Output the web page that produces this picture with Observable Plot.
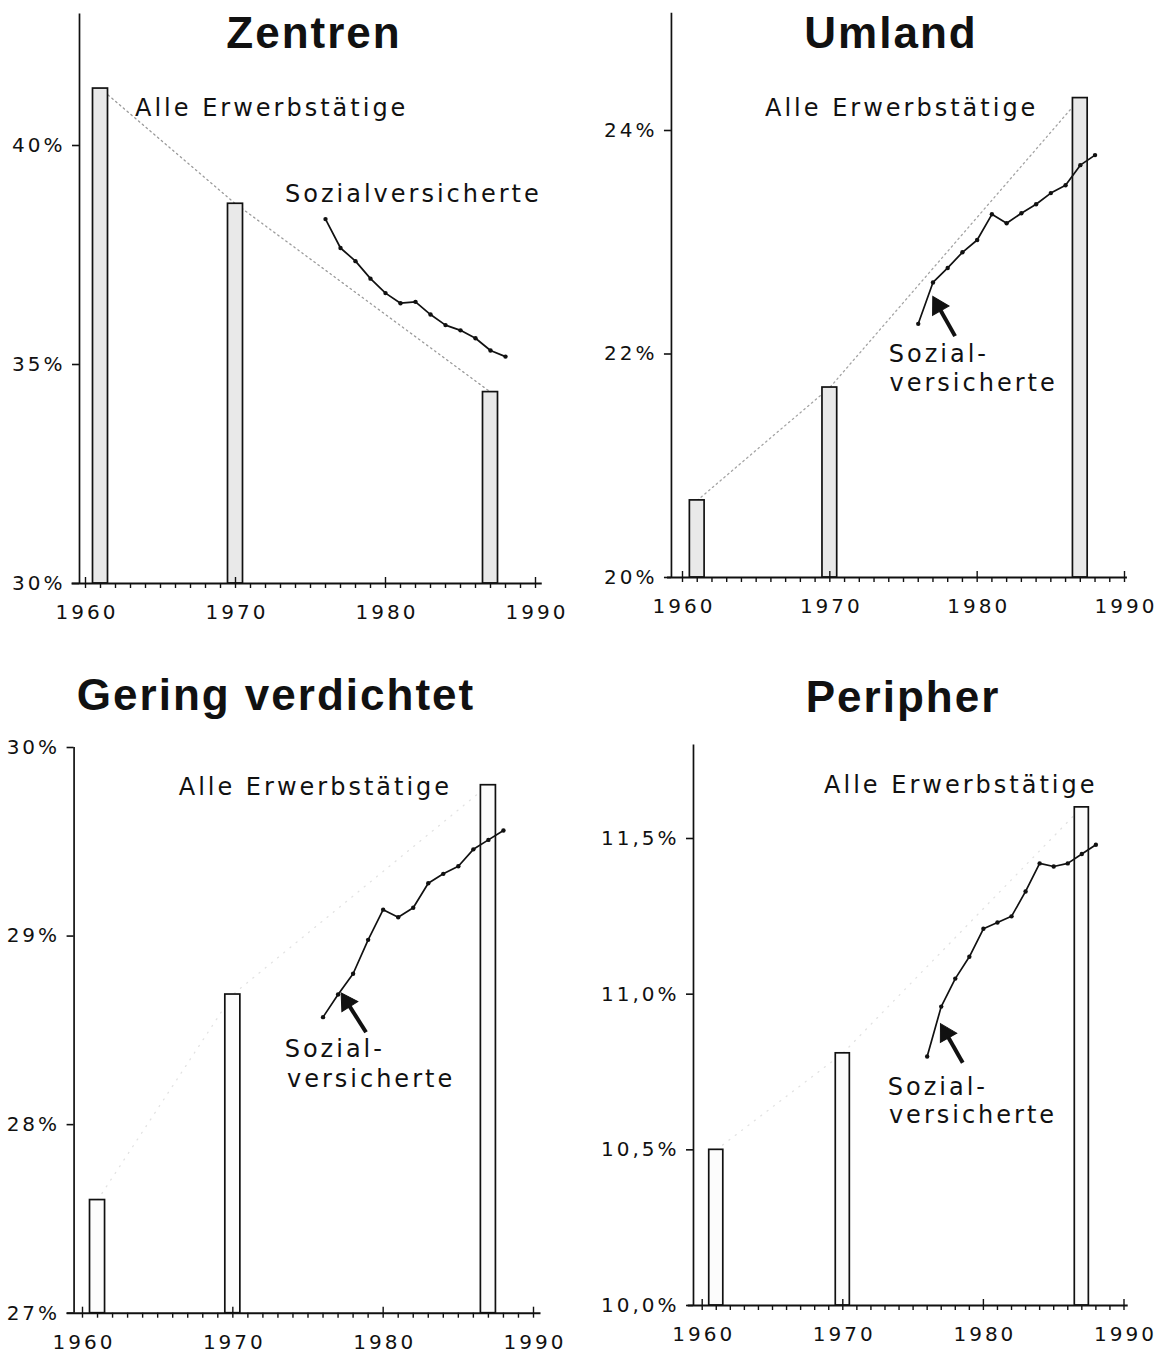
<!DOCTYPE html>
<html><head><meta charset="utf-8">
<script src="https://cdn.jsdelivr.net/npm/d3@7"></script>
<script src="https://cdn.jsdelivr.net/npm/@observablehq/plot@0.6"></script>
<style>
body{margin:0;background:#fff;}
#wrap{position:relative;width:1158px;height:1353px;overflow:hidden;background:#fff;}
.panel{position:absolute;}
.title{position:absolute;font-family:"Liberation Sans",Arial,sans-serif;font-weight:bold;font-size:44px;letter-spacing:2px;line-height:1;white-space:nowrap;transform:translateX(-50%);color:#111;}
</style></head><body><div id="wrap"></div>
<script>
// ---- data ----
const barYears = [1961, 1970, 1987];
const svYears = [1976, 1977, 1978, 1979, 1980, 1981, 1982, 1983, 1984, 1985, 1986, 1987, 1988];
const majorYears = [1960, 1970, 1980, 1990];

const zentrenBars = [41.30, 38.67, 34.37];
const zentrenSV = [38.32, 37.66, 37.36, 36.96, 36.63, 36.40, 36.43, 36.14, 35.90, 35.78, 35.60, 35.32, 35.18];
const zentrenTicks = [30, 35, 40];

const umlandBars = [20.69, 21.70, 24.29];
const umlandSV = [22.27, 22.64, 22.77, 22.91, 23.02, 23.25, 23.17, 23.26, 23.34, 23.44, 23.51, 23.69, 23.78];
const umlandTicks = [20, 22, 24];

const geringBars = [27.60, 28.69, 29.80];
const geringSV = [28.57, 28.69, 28.80, 28.98, 29.14, 29.10, 29.15, 29.28, 29.33, 29.37, 29.46, 29.51, 29.56];
const geringTicks = [27, 28, 29, 30];

const peripherBars = [10.50, 10.81, 11.60];
const peripherSV = [10.80, 10.96, 11.05, 11.12, 11.21, 11.23, 11.25, 11.33, 11.42, 11.41, 11.42, 11.45, 11.48];
const peripherTicks = [10.0, 10.5, 11.0, 11.5];

const titles = ["Zentren", "Umland", "Gering verdichtet", "Peripher"];
const labelAlle = "Alle Erwerbstätige";
const labelSV = "Sozialversicherte";
const labelSVa = "Sozial-";
const labelSVb = "versicherte";

// ---- layout / style config ----
const pct = d => d + "%";
const pctDe = d => d.toFixed(1).replace(".", ",") + "%";

const panels = [
  {title: titles[0], bars: zentrenBars, sv: zentrenSV, ticks: zentrenTicks, fmt: pct,
   left: 0, top: 0, w: 579, h: 650, tx: 314, ty: 11,
   xRange: [85, 535], yDomain: [30, 40], yRange: [583, 145],
   yAxisX: 1959.6, xFrom: 1959.1, xTo: 1990.45, yTop: 43.0,
   barFill: "#e9e9e9", dotColor: "#9a9a9a", dash: "1.5,3.5",
   labels: [{x: 1963.3, y: 40.84, text: labelAlle}, {x: 1973.3, y: 38.88, text: labelSV}],
   arrow: null},
  {title: titles[1], bars: umlandBars, sv: umlandSV, ticks: umlandTicks, fmt: pct,
   left: 579, top: 0, w: 579, h: 650, tx: 891, ty: 11,
   xRange: [103, 545], yDomain: [20, 24], yRange: [577, 130],
   yAxisX: 1959.25, xFrom: 1958.98, xTo: 1990.2, yTop: 25.05,
   barFill: "#e9e9e9", dotColor: "#a4a4a4", dash: "1.5,3.5",
   labels: [{x: 1965.6, y: 24.2, text: labelAlle}, {x: 1974.0, y: 22.0, text: labelSVa}, {x: 1974.05, y: 21.74, text: labelSVb}],
   arrow: {x1: 1978.5, y1: 22.16, x2: 1977.35, y2: 22.43}},
  {title: titles[2], bars: geringBars, sv: geringSV, ticks: geringTicks, fmt: pct,
   left: 0, top: 650, w: 579, h: 703, tx: 276, ty: 673,
   xRange: [82, 533], yDomain: [27, 30], yRange: [662.7, 97],
   yAxisX: 1959.44, xFrom: 1958.98, xTo: 1990.5, yTop: 30,
   barFill: "#fcfcfc", dotColor: "#e2e2e2", dash: "1,7",
   labels: [{x: 1966.4, y: 29.79, text: labelAlle}, {x: 1973.45, y: 28.40, text: labelSVa}, {x: 1973.6, y: 28.24, text: labelSVb}],
   arrow: {x1: 1978.86, y1: 28.49, x2: 1977.59, y2: 28.65}},
  {title: titles[3], bars: peripherBars, sv: peripherSV, ticks: peripherTicks, fmt: pctDe,
   left: 579, top: 650, w: 579, h: 703, tx: 903, ty: 675,
   xRange: [122.7, 544.5], yDomain: [10, 11.5], yRange: [655, 188],
   yAxisX: 1959.38, xFrom: 1959.0, xTo: 1990.3, yTop: 11.8,
   barFill: "#fcfcfc", dotColor: "#e2e2e2", dash: "1,7",
   labels: [{x: 1968.67, y: 11.67, text: labelAlle}, {x: 1973.2, y: 10.70, text: labelSVa}, {x: 1973.28, y: 10.61, text: labelSVb}],
   arrow: {x1: 1978.53, y1: 10.78, x2: 1977.33, y2: 10.875}}
];

const ink = "#111";

function makePanel(c) {
  const y0 = c.yDomain[0];
  const ppu = (c.yRange[0] - c.yRange[1]) / (c.yDomain[1] - c.yDomain[0]);
  const ppy = (c.xRange[1] - c.xRange[0]) / 30;
  const barData = barYears.map((year, i) => ({year, value: c.bars[i]}));
  const svData = svYears.map((year, i) => ({year, value: c.sv[i]}));
  const minor = d3.range(1961, 1990).filter(d => d % 10 !== 0);
  const marks = [
    Plot.line(barData, {x: "year", y: "value", stroke: c.dotColor, strokeWidth: 1.3, strokeDasharray: c.dash}),
    Plot.rectY(barData, {x1: d => d.year - 0.5, x2: d => d.year + 0.5, y1: y0, y2: "value", fill: c.barFill, stroke: ink, strokeWidth: 1.7}),
    Plot.ruleY([y0], {x1: c.xFrom, x2: c.xTo, stroke: ink, strokeWidth: 2}),
    Plot.ruleX([c.yAxisX], {y1: y0, y2: c.yTop, stroke: ink, strokeWidth: 1.7}),
    Plot.ruleX(minor, {x: d => d, y1: y0, y2: y0 - 5 / ppu, stroke: ink, strokeWidth: 1.4}),
    Plot.ruleX(majorYears, {x: d => d, y1: y0 - 5 / ppu, y2: y0 + 6 / ppu, stroke: ink, strokeWidth: 1.4}),
    Plot.ruleY(c.ticks, {y: d => d, x1: c.yAxisX - 7 / ppy, x2: c.yAxisX, stroke: ink, strokeWidth: 1.6}),
    Plot.text(majorYears, {x: d => d, y: y0, dy: 29, dx: 1.5, text: d => String(d), fontSize: 20, fill: ink}),
    Plot.text(c.ticks, {x: c.yAxisX, y: d => d, dx: -14, textAnchor: "end", text: d => c.fmt(d), fontSize: 20, fill: ink}),
    Plot.line(svData, {x: "year", y: "value", stroke: ink, strokeWidth: 1.7}),
    Plot.dot(svData, {x: "year", y: "value", r: 2.2, fill: ink}),
    Plot.text(c.labels, {x: "x", y: "y", text: "text", textAnchor: "start", fontSize: 24, fill: ink})
  ];
  if (c.arrow) {
    const a = c.arrow;
    const dxp = (a.x2 - a.x1) * ppy, dyp = -(a.y2 - a.y1) * ppu;
    const ang = Math.atan2(dxp, -dyp) * 180 / Math.PI;
    marks.push(Plot.link([a], {x1: "x1", y1: "y1", x2: "x2", y2: "y2", stroke: ink, strokeWidth: 4}));
    marks.push(Plot.dot([a], {x: "x2", y: "y2", symbol: "triangle", r: 7, fill: ink, stroke: ink, strokeWidth: 1, rotate: ang}));
  }
  return Plot.plot({
    width: c.w, height: c.h, margin: 0,
    x: {domain: [1960, 1990], range: c.xRange, axis: null},
    y: {domain: c.yDomain, range: c.yRange, axis: null},
    style: {fontFamily: "'DejaVu Sans', sans-serif", letterSpacing: "3px", background: "transparent", overflow: "visible"},
    marks
  });
}

const wrap = document.getElementById("wrap");
for (const c of panels) {
  const div = document.createElement("div");
  div.className = "panel";
  div.style.left = c.left + "px";
  div.style.top = c.top + "px";
  div.appendChild(makePanel(c));
  wrap.appendChild(div);
  const t = document.createElement("div");
  t.className = "title";
  t.textContent = c.title;
  t.style.left = c.tx + "px";
  t.style.top = c.ty + "px";
  wrap.appendChild(t);
}
</script></body></html>
